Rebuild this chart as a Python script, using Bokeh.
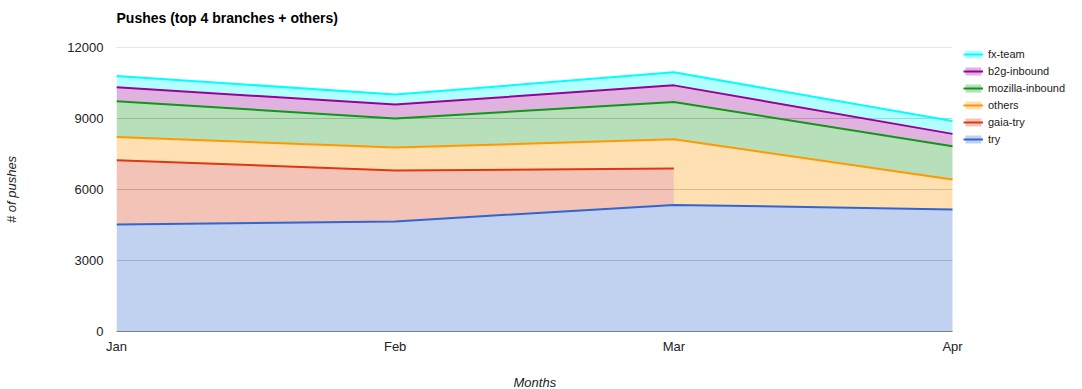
import numpy as np
from bokeh.plotting import figure
from bokeh.models import Range1d, FixedTicker, Legend, LegendItem, Title
from bokeh.embed import file_html
from bokeh.resources import INLINE

months = ["Jan", "Feb", "Mar", "Apr"]
series_names = ["try", "gaia-try", "others", "mozilla-inbound", "b2g-inbound", "fx-team"]
try_vals = [4520, 4650, 5350, 5160]
gaia_try_vals = [2720, 2150, 1540, np.nan]
others_vals = [980, 970, 1230, 1260]
mozilla_inbound_vals = [1510, 1230, 1580, 1410]
b2g_inbound_vals = [590, 590, 700, 520]
fx_team_vals = [480, 420, 550, 540]
colors = ["#3366cc", "#dc3912", "#ff9900", "#109618", "#990099", "#00ffff"]
y_ticks = [0, 3000, 6000, 9000, 12000]
title_text = "Pushes (top 4 branches + others)"
x_title = "Months"
y_title = "# of pushes"

FONT = "Liberation Sans"

# layout (pixels)
FIG_W, FIG_H = 1070, 389
PLOT_L, PLOT_R = 116, 952     # where the data area should sit
LEG_X, LEG_Y = 847, 186       # legend offset from frame bottom-left
X_TITLE_HALF_W = 21           # half width of the x title text

series = [try_vals, gaia_try_vals, others_vals, mozilla_inbound_vals, b2g_inbound_vals, fx_team_vals]
x = np.arange(len(months), dtype=float)
px_per_unit = (PLOT_R - PLOT_L) / (x[-1] - x[0])
x_end = x[-1] + (FIG_W - PLOT_R) / px_per_unit

p = figure(width=FIG_W, height=FIG_H, output_backend="svg", toolbar_location=None,
           x_range=Range1d(x[0], x_end), y_range=Range1d(y_ticks[0], y_ticks[-1]),
           min_border_left=PLOT_L, min_border_right=0, min_border_top=47, min_border_bottom=58)
p.outline_line_color = None
p.background_fill_color = "white"
p.border_fill_color = "white"

# spacer above the frame, then the title outside it
p.add_layout(Title(text=" ", text_font_size="1px", standoff=19), "above")
p.title.text = title_text
p.title.text_font = FONT
p.title.text_font_size = "14px"
p.title.text_font_style = "bold"
p.title.text_color = "#000000"
p.title.standoff = 0
p.title.align = "left"

# axes
p.xaxis.ticker = FixedTicker(ticks=list(x))
p.xaxis.major_label_overrides = {i: m for i, m in enumerate(months)}
p.xaxis.bounds = (x[0], x[-1])
p.yaxis.ticker = FixedTicker(ticks=y_ticks)
for ax in (p.xaxis[0], p.yaxis[0]):
    ax.major_tick_line_color = None
    ax.minor_tick_line_color = None
    ax.major_tick_out = 0
    ax.major_tick_in = 0
    ax.minor_tick_out = 0
    ax.minor_tick_in = 0
    ax.major_label_text_font = FONT
    ax.major_label_text_font_size = "13px"
    ax.major_label_text_color = "#222222"
    ax.axis_label_text_font = FONT
    ax.axis_label_text_font_size = "13px"
    ax.axis_label_text_font_style = "italic"
    ax.axis_label_text_color = "#222222"
p.yaxis.axis_line_color = None
p.xaxis.axis_line_color = "#808080"
p.xaxis.axis_line_width = 1
p.xaxis.major_label_standoff = 7
p.yaxis.major_label_standoff = 13
p.yaxis.axis_label = y_title
p.yaxis.axis_label_standoff = 45

# x title centred under the data span (the frame extends right for the legend)
p.add_layout(Title(text=" ", text_font_size="1px", standoff=13), "below")
x_title_offset = (PLOT_R - PLOT_L) / 2 - X_TITLE_HALF_W
p.add_layout(Title(text=x_title, text_font=FONT, text_font_size="13px",
                   text_font_style="italic", text_color="#222222", align="left",
                   offset=x_title_offset, standoff=0), "below")

p.xgrid.grid_line_color = None
p.ygrid.grid_line_color = None
# horizontal gridlines limited to the data span
p.segment(x0=[x[0]] * len(y_ticks[1:]), x1=[x[-1]] * len(y_ticks[1:]),
          y0=y_ticks[1:], y1=y_ticks[1:], line_color="#cccccc", line_width=1)

# stacking (null treated as 0 for the stack)
vals = [np.array(s, dtype=float) for s in series]
filled = [np.nan_to_num(v, nan=0.0) for v in vals]
tops = np.cumsum(np.vstack(filled), axis=0)
bottoms = np.vstack([np.zeros(len(months)), tops[:-1]])

areas = {}
for i, name in enumerate(series_names):
    v = vals[i]
    c = colors[i]
    valid = ~np.isnan(v)
    if i > 0 and np.isnan(vals[i - 1]).any():
        # previous series ends early: the lower edge drops to the layer beneath
        prev_valid = ~np.isnan(vals[i - 1])
        last = np.where(prev_valid)[0][-1]
        xs = list(x[:last + 1]) + list(x[last:])
        lower = list(tops[i - 1][:last + 1]) + list(bottoms[i - 1][last:])
        upper = list(tops[i][:last + 1]) + list(tops[i][last:])
    else:
        idx = np.where(valid)[0]
        xs = list(x[idx])
        lower = list(bottoms[i][idx])
        upper = list(tops[i][idx])
    areas[name] = p.varea(x=xs, y1=lower, y2=upper, fill_color=c, fill_alpha=0.3)

items = {}
for i, name in enumerate(series_names):
    idx = np.where(~np.isnan(vals[i]))[0]
    l = p.line(x=list(x[idx]), y=list(tops[i][idx]), line_color=colors[i], line_width=2)
    items[name] = [areas[name], l]

legend = Legend(items=[LegendItem(label=n, renderers=items[n]) for n in reversed(series_names)],
                location=(LEG_X, LEG_Y))
legend.margin = 0
legend.padding = 0
legend.spacing = 4
legend.border_line_color = None
legend.background_fill_alpha = 0
legend.glyph_width = 20
legend.glyph_height = 10
legend.label_height = 13
legend.label_standoff = 5
legend.label_text_font = FONT
legend.label_text_font_size = "11px"
legend.label_text_color = "#222222"
legend.label_text_baseline = "middle"
p.add_layout(legend, "center")

open("out.html", "w").write(file_html(p, INLINE))
